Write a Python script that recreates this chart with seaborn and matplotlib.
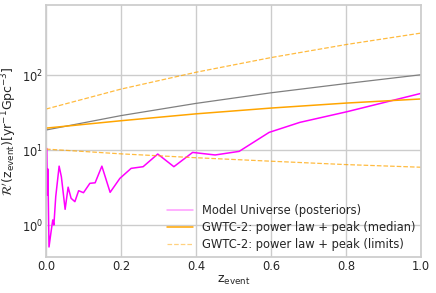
import numpy as np
import pandas as pd
import seaborn as sns
import matplotlib
matplotlib.use("Agg")
import matplotlib.pyplot as plt

# --- data ---
z_model = [0.002, 0.0035, 0.005, 0.008, 0.013, 0.018, 0.021, 0.026, 0.035, 0.041,
           0.051, 0.059, 0.067, 0.077, 0.087, 0.100, 0.117, 0.131, 0.149, 0.171,
           0.197, 0.227, 0.259, 0.298, 0.341, 0.391, 0.451, 0.515, 0.595, 0.677,
           0.802, 1.000]
r_model = [10.5, 2.5, 5.6, 0.51, 0.78, 1.17, 1.0, 2.4, 6.1, 4.4,
           1.62, 3.2, 2.27, 2.05, 2.87, 2.7, 3.6, 3.66, 6.1, 2.73,
           4.19, 5.7, 6.0, 8.85, 6.0, 9.3, 8.6, 9.6, 17.2, 23.4,
           32.4, 57.0]

z_grid = [0.0, 0.2, 0.4, 0.6, 0.8, 1.0]
r_universe = [18.5, 28.8, 41.9, 58.0, 77.0, 101.0]
r_median = [19.6, 24.6, 30.4, 36.3, 42.3, 48.0]
r_upper = [35.2, 65.0, 109.0, 171.0, 255.0, 363.0]
r_lower = [10.3, 8.9, 7.9, 7.1, 6.4, 5.9]

sns.set_theme(style="whitegrid")
fs = 8.3
plt.rcParams.update({"font.size": fs, "xtick.labelsize": fs, "ytick.labelsize": fs,
                     "axes.labelsize": 9, "legend.fontsize": fs,
                     "mathtext.fontset": "dejavusans"})

fig, ax = plt.subplots(figsize=(4.36, 2.93), dpi=100)
fig.subplots_adjust(left=0.1055, right=0.9656, top=0.983, bottom=0.1229)

sns.lineplot(x=z_grid, y=r_universe, ax=ax, color="grey", lw=0.9)
sns.lineplot(x=z_model, y=r_model, ax=ax, color="magenta", lw=1.1,
             label="Model Universe (posteriors)", sort=False)
sns.lineplot(x=z_grid, y=r_median, ax=ax, color="orange", lw=1.1,
             label="GWTC-2: power law + peak (median)")
sns.lineplot(x=z_grid, y=r_upper, ax=ax, color="orange", lw=0.9, ls="--", alpha=0.75,
             label="GWTC-2: power law + peak (limits)")
sns.lineplot(x=z_grid, y=r_lower, ax=ax, color="orange", lw=0.9, ls="--", alpha=0.75)

ax.set_yscale("log")
ax.set_xlim(0, 1)
ax.set_ylim(0.375, 860)
ax.tick_params(axis="both", which="both", length=0, pad=2)
ax.set_xlabel(r"z$_{\rm event}$", labelpad=1)
ax.set_ylabel(r"$\mathcal{R}'(\mathrm{z}_{\rm event}) [\mathrm{yr}^{-1}\mathrm{Gpc}^{-3}]$",
              labelpad=2)

leg = ax.legend(loc="lower right", frameon=False, borderaxespad=0.1,
                labelspacing=0.35, handlelength=2.2, handletextpad=0.8)
leg.legend_handles[0].set_alpha(0.4)
leg.legend_handles[2].set_alpha(0.5)

fig.savefig("out.png", dpi=100)
